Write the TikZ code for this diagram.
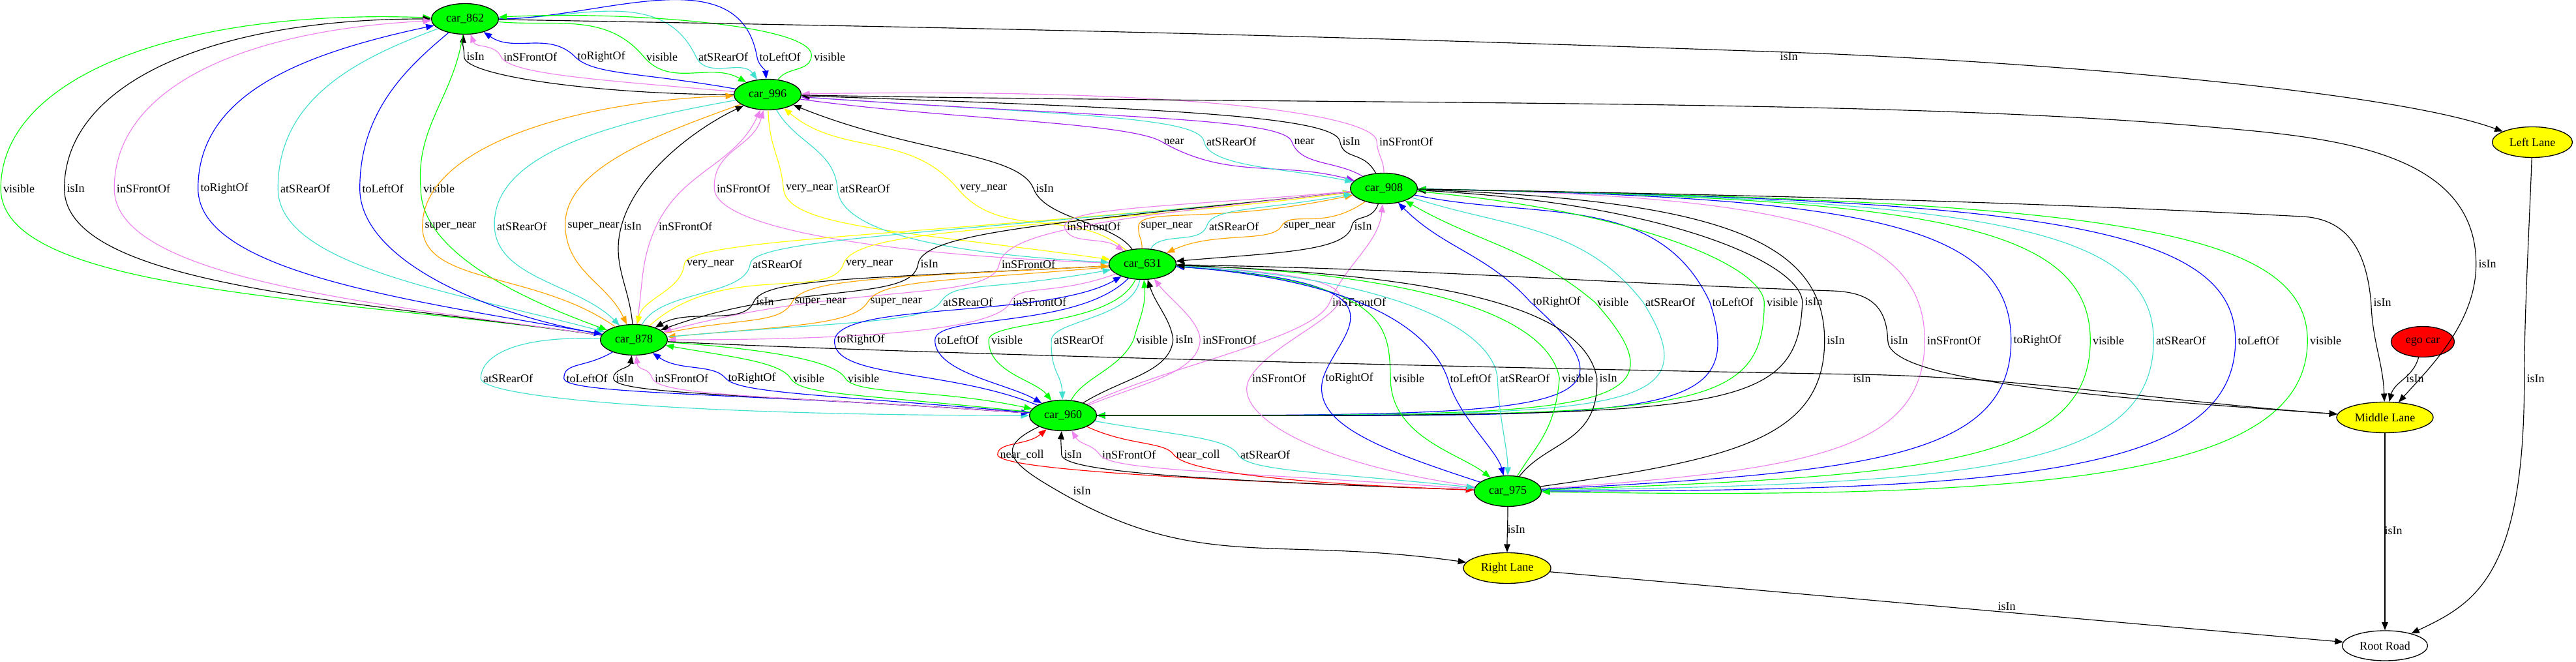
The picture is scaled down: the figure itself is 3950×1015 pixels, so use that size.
\documentclass[tikz,border=0pt]{standalone}
\usepackage{fontspec}
\setmainfont{Liberation Serif}
\usetikzlibrary{arrows.meta,shapes.geometric}
\definecolor{cgreen}{HTML}{00FF00}
\definecolor{cviolet}{HTML}{EE82EE}
\definecolor{cturq}{HTML}{40E0D0}
\definecolor{cblue}{HTML}{0000FF}
\definecolor{corange}{HTML}{FFA500}
\definecolor{cyellow}{HTML}{FFFF00}
\definecolor{cpurple}{HTML}{A020F0}
\definecolor{cred}{HTML}{FF0000}
\newcounter{lb}
% #1 style, #2 upper node, #3 lower node, #4 label x, #5 label y (px, down), #6 text, #7 first segment, #8 second segment
\newcommand\gedge[8]{%
  \stepcounter{lb}%
  \node[lab] (L\thelb) at (#4,-#5) {#6};
  \draw[e,#1] (#2) to[#7] ([xshift=-0.75pt]L\thelb.west) to[#8] (#3);}
\begin{document}
\begin{tikzpicture}[x=0.25pt,y=0.25pt,
  font=\fontsize{4.5}{5.25}\selectfont,
  e/.style={line width=0.29pt},
  fw/.style={-{Triangle[length=3.1pt,width=2.4pt]}},
  bw/.style={{Triangle[length=3.1pt,width=2.4pt]}-},
  od/.code={\pgfmathsetmacro\odv{#1*0.25}\edef\tmpk{\noexpand\tikzset{out distance=\odv pt}}\tmpk},
  ind/.code={\pgfmathsetmacro\idv{#1*0.25}\edef\tmpk{\noexpand\tikzset{in distance=\idv pt}}\tmpk},
  lab/.style={inner sep=0pt,anchor=center},
  car/.style={ellipse,draw=black,line width=0.33pt,fill=cgreen,minimum width=25.75pt,minimum height=11.75pt,inner sep=0pt},
  lane/.style={ellipse,draw=black,line width=0.33pt,fill=cyellow,minimum height=11.75pt,inner sep=0pt},
  egost/.style={ellipse,draw=black,line width=0.33pt,fill=cred,minimum width=24.25pt,minimum height=11.75pt,inner sep=0pt},
  rootst/.style={ellipse,draw=black,line width=0.33pt,fill=white,minimum width=32.75pt,minimum height=11.5pt,inner sep=0pt}]
\fill[white] (0,0) rectangle (3950,-1015);
\useasboundingbox (0,0) rectangle (3950,-1015);

% nodes
\node[car] (c862) at (713,-29) {car\_862};
\node[car] (c996) at (1177,-145) {car\_996};
\node[car] (c908) at (2122,-289) {car\_908};
\node[car] (c631) at (1752,-405) {car\_631};
\node[car] (c878) at (972,-521) {car\_878};
\node[car] (c960) at (1630,-637) {car\_960};
\node[car] (c975) at (2312,-753) {car\_975};
\node[lane,minimum width=30.75pt] (ll) at (3883,-218) {Left Lane};
\node[lane,minimum width=37pt] (ml) at (3657,-640) {Middle Lane};
\node[egost] (ego) at (3715,-524) {ego car};
\node[lane,minimum width=33.5pt] (rl) at (2311,-871) {Right Lane};
\node[rootst] (rr) at (3657,-990) {Root Road};

% 862 / 996
\gedge{black,bw}{c862}{c996}{729}{87}{isIn}{out=-95,in=90,od=20,ind=15}{out=-90,in=180,od=30,ind=200}
\gedge{cviolet,bw}{c862}{c996}{813}{87}{inSFrontOf}{out=-70,in=115}{out=-65,in=175,od=30,ind=200}
\gedge{cblue,bw}{c862}{c996}{922}{87}{toRightOf}{out=-35,in=135}{out=-45,in=170,od=40,ind=150}
\gedge{cgreen,fw}{c862}{c996}{1015}{87}{visible}{out=-5,in=130}{out=-50,in=150}
\gedge{cturq,fw}{c862}{c996}{1109}{87}{atSRearOf}{out=0,in=115}{out=-65,in=125}
\gedge{cblue,fw}{c862}{c996}{1196}{87}{toLeftOf}{out=0,in=100}{out=-80,in=95}
\gedge{cgreen,bw}{c862}{c996}{1272}{87}{visible}{out=3,in=80,ind=50}{out=-100,in=55}

% 862 / 878
\gedge{cgreen,bw}{c862}{c878}{29}{289}{visible}{out=178,in=90,od=390,ind=170}{out=-90,in=172,od=160,ind=420}
\gedge{black,bw}{c862}{c878}{116}{289}{isIn}{out=180,in=90,od=340,ind=160}{out=-90,in=172,od=150,ind=380}
\gedge{cviolet,bw}{c862}{c878}{220}{289}{inSFrontOf}{out=183,in=90,od=300,ind=150}{out=-90,in=172,od=140,ind=340}
\gedge{cblue,bw}{c862}{c878}{344}{289}{toRightOf}{out=192,in=90,od=220,ind=140}{out=-90,in=170,od=130,ind=290}
\gedge{cturq,fw}{c862}{c878}{468}{289}{atSRearOf}{out=200,in=90,od=150,ind=130}{out=-90,in=165,od=120,ind=230}
\gedge{cblue,fw}{c862}{c878}{587}{289}{toLeftOf}{out=-140,in=90,od=80,ind=120}{out=-90,in=170,od=110,ind=180}
\gedge{cgreen,fw}{c862}{c878}{673}{289}{visible}{out=-98,in=95}{out=-90,in=160,od=100,ind=130}

% 996 / 878
\gedge{corange,bw}{c996}{c878}{691}{347}{super\_near}{out=182,in=90,od=250,ind=120}{out=-90,in=145,od=90,ind=150}
\gedge{cturq,fw}{c996}{c878}{800}{347}{atSRearOf}{out=190,in=92,od=200,ind=110}{out=-88,in=135,od=80,ind=90}
\gedge{corange,fw}{c996}{c878}{910}{347}{super\_near}{out=200,in=92,od=130,ind=90}{out=-88,in=115,od=70,ind=70}
\gedge{black,bw}{c996}{c878}{970}{347}{isIn}{out=205,in=75,od=70,ind=90}{out=-105,in=95,od=60,ind=60}
\gedge{cviolet,bw}{c996}{c878}{1051}{347}{inSFrontOf}{out=-115,in=65}{out=-115,in=80}

% 996 / 631
\gedge{cviolet,bw}{c996}{c631}{1140}{289}{inSFrontOf}{out=-105,in=92,od=60,ind=60}{out=-88,in=178,od=60,ind=350}
\gedge{cyellow,fw}{c996}{c631}{1241}{289}{very\_near}{out=-88,in=95,od=60,ind=50}{out=-85,in=172,od=60,ind=320}
\gedge{cturq,fw}{c996}{c631}{1326}{289}{atSRearOf}{out=-60,in=95,od=60,ind=60}{out=-88,in=177,od=60,ind=280}
\gedge{cyellow,bw}{c996}{c631}{1508}{289}{very\_near}{out=-40,in=130}{out=-50,in=140}
\gedge{black,bw}{c996}{c631}{1602}{289}{isIn}{out=-22,in=112,od=200,ind=60}{out=-70,in=125,od=50,ind=50}

% 996 / 908
\gedge{cpurple,fw}{c996}{c908}{1800}{217}{near}{out=-8,in=150,ind=60}{out=-30,in=165}
\gedge{cturq,fw}{c996}{c908}{1888}{217}{atSRearOf}{out=-4,in=100,od=400,ind=40}{out=-80,in=168,od=40,ind=100}
\gedge{cpurple,bw}{c996}{c908}{2000}{217}{near}{out=-4,in=110,od=450,ind=40}{out=-70,in=150,od=40,ind=50}
\gedge{black,bw}{c996}{c908}{2072}{217}{isIn}{out=-2,in=100,od=550,ind=40}{out=-80,in=118,od=30,ind=40}
\gedge{cviolet,bw}{c996}{c908}{2156}{217}{inSFrontOf}{out=1,in=92,od=600,ind=40}{out=-88,in=90,od=20,ind=20}

% 908 / 878
\gedge{cyellow,fw}{c908}{c878}{1089}{405}{very\_near}{out=186,in=85,od=650,ind=40}{out=-95,in=78,od=40,ind=40}
\gedge{cturq,bw}{c908}{c878}{1192}{405}{atSRearOf}{out=186,in=88,od=600,ind=40}{out=-98,in=62,od=50,ind=60}
\gedge{cyellow,bw}{c908}{c878}{1333}{405}{very\_near}{out=187,in=72,od=500,ind=60}{out=-108,in=42,od=60,ind=150}
\gedge{black,fw}{c908}{c878}{1425}{405}{isIn}{out=186,in=82,od=450,ind=50}{out=-98,in=20,od=60,ind=220}
\gedge{cviolet,fw}{c908}{c878}{1577}{405}{inSFrontOf}{out=186,in=80,od=380,ind=50}{out=-100,in=15,od=60,ind=300}

% 908 / 631
\gedge{cviolet,fw}{c908}{c631}{1677}{347}{inSFrontOf}{out=185,in=80,od=280,ind=30}{out=-80,in=145,od=30,ind=40}
\gedge{corange,bw}{c908}{c631}{1789}{347}{super\_near}{out=192,in=85,od=220,ind=30}{out=-90,in=92,od=20,ind=20}
\gedge{cturq,bw}{c908}{c631}{1892}{347}{atSRearOf}{out=190,in=75,od=150,ind=30}{out=-110,in=62,od=30,ind=30}
\gedge{corange,fw}{c908}{c631}{2008}{347}{super\_near}{out=215,in=60,od=80,ind=30}{out=-120,in=25,od=30,ind=80}
\gedge{black,fw}{c908}{c631}{2090}{347}{isIn}{out=-110,in=78,od=30,ind=20}{out=-102,in=5,od=40,ind=150}

% 631 / 878
\gedge{black,fw}{c631}{c878}{1173}{463}{isIn}{out=183,in=68,od=380,ind=40}{out=-112,in=30,od=40,ind=60}
\gedge{corange,bw}{c631}{c878}{1258}{463}{super\_near}{out=183,in=62,od=350,ind=40}{out=-118,in=12,od=40,ind=120}
\gedge{corange,fw}{c631}{c878}{1374}{463}{super\_near}{out=185,in=60,od=250,ind=40}{out=-122,in=5,od=40,ind=200}
\gedge{cturq,bw}{c631}{c878}{1484}{463}{atSRearOf}{out=190,in=55,od=200,ind=40}{out=-125,in=5,od=40,ind=280}
\gedge{cviolet,fw}{c631}{c878}{1594}{463}{inSFrontOf}{out=200,in=68,od=100,ind=30}{out=-112,in=0,od=40,ind=350}

% 631 / 960
\gedge{cblue,bw}{c631}{c960}{1320}{521}{toRightOf}{out=-150,in=80,od=130,ind=60}{out=-95,in=158,od=60,ind=150}
\gedge{cblue,fw}{c631}{c960}{1469}{521}{toLeftOf}{out=-135,in=88,od=110,ind=40}{out=-92,in=150,od=50,ind=60}
\gedge{cgreen,fw}{c631}{c960}{1544}{521}{visible}{out=-115,in=88,od=80,ind=30}{out=-92,in=128,od=50,ind=40}
\gedge{cturq,fw}{c631}{c960}{1654}{521}{atSRearOf}{out=-100,in=85,od=60,ind=30}{out=-92,in=92,od=50,ind=40}
\gedge{cgreen,bw}{c631}{c960}{1766}{521}{visible}{out=-85,in=75,od=40,ind=30}{out=-115,in=62,od=50,ind=40}
\gedge{black,bw}{c631}{c960}{1816}{521}{isIn}{out=-72,in=95,od=40,ind=30}{out=-95,in=32,od=50,ind=70}
\gedge{cviolet,bw}{c631}{c960}{1885}{521}{inSFrontOf}{out=-52,in=92,od=40,ind=30}{out=-92,in=22,od=50,ind=90}

% 908 / 960
\gedge{cviolet,bw}{c908}{c960}{2084}{463}{inSFrontOf}{out=-95,in=68,od=60,ind=60}{out=-112,in=25,od=60,ind=150}
\gedge{cblue,bw}{c908}{c960}{2387}{463}{toRightOf}{out=-45,in=132}{out=-42,in=0,od=260,ind=700}
\gedge{cgreen,bw}{c908}{c960}{2473}{463}{visible}{out=-30,in=140}{out=-48,in=0,od=240,ind=750}
\gedge{cturq,fw}{c908}{c960}{2561}{463}{atSRearOf}{out=-18,in=128}{out=-58,in=0,od=210,ind=800}
\gedge{cblue,fw}{c908}{c960}{2657}{463}{toLeftOf}{out=-12,in=115}{out=-72,in=0,od=200,ind=850}
\gedge{cgreen,fw}{c908}{c960}{2733}{463}{visible}{out=-5,in=95,od=320,ind=60}{out=-90,in=0,od=180,ind=900}
\gedge{black,bw}{c908}{c960}{2781}{463}{isIn}{out=-3,in=92,od=380,ind=60}{out=-92,in=0,od=180,ind=950}

% 908 / 975
\gedge{black,bw}{c908}{c975}{2815}{522}{isIn}{out=-2,in=90,od=470,ind=150}{out=-90,in=8,od=150,ind=300}
\gedge{cviolet,bw}{c908}{c975}{2996}{522}{inSFrontOf}{out=-1,in=90,od=580,ind=170}{out=-90,in=4,od=170,ind=410}
\gedge{cblue,bw}{c908}{c975}{3124}{522}{toRightOf}{out=-1,in=90,od=680,ind=180}{out=-90,in=3,od=180,ind=500}
\gedge{cgreen,bw}{c908}{c975}{3233}{522}{visible}{out=-1,in=90,od=780,ind=180}{out=-90,in=2,od=190,ind=590}
\gedge{cturq,fw}{c908}{c975}{3344}{522}{atSRearOf}{out=-1,in=90,od=850,ind=180}{out=-90,in=1,od=200,ind=660}
\gedge{cblue,fw}{c908}{c975}{3463}{522}{toLeftOf}{out=-1,in=90,od=940,ind=180}{out=-90,in=0,od=200,ind=745}
\gedge{cgreen,fw}{c908}{c975}{3566}{522}{visible}{out=-1,in=90,od=1020,ind=180}{out=-90,in=-1,od=200,ind=820}

% 631 / 975
\gedge{cviolet,bw}{c631}{c975}{1961}{580}{inSFrontOf}{out=-3,in=60,od=450,ind=100}{out=-120,in=172,od=60,ind=260}
\gedge{cblue,bw}{c631}{c975}{2069}{580}{toRightOf}{out=-4,in=72,od=380,ind=80}{out=-105,in=162,od=70,ind=170}
\gedge{cgreen,fw}{c631}{c975}{2160}{580}{visible}{out=-4,in=92,od=330,ind=80}{out=-90,in=142,od=90,ind=60}
\gedge{cblue,fw}{c631}{c975}{2255}{580}{toLeftOf}{out=-4,in=110,od=300,ind=70}{out=-75,in=105,od=60,ind=40}
\gedge{cturq,fw}{c631}{c975}{2338}{580}{atSRearOf}{out=-3,in=95,od=350,ind=70}{out=-88,in=90,od=60,ind=40}
\gedge{cgreen,bw}{c631}{c975}{2419}{580}{visible}{out=-2,in=100,od=400,ind=90}{out=-95,in=58,od=80,ind=60}
\gedge{black,bw}{c631}{c975}{2466}{580}{isIn}{out=-2,in=100,od=450,ind=100}{out=-88,in=52,od=100,ind=70}

% 878 / 960
\gedge{cturq,fw}{c878}{c960}{779}{580}{atSRearOf}{out=178,in=90,od=140,ind=30}{out=-90,in=180,od=30,ind=520}
\gedge{cblue,fw}{c878}{c960}{900}{580}{toLeftOf}{out=-150,in=90,od=50,ind=25}{out=-90,in=176,od=25,ind=450}
\gedge{black,bw}{c878}{c960}{958}{580}{isIn}{out=-98,in=90,od=20,ind=15}{out=-90,in=176,od=25,ind=420}
\gedge{cviolet,bw}{c878}{c960}{1045}{580}{inSFrontOf}{out=-82,in=110,od=25,ind=20}{out=-70,in=176,od=30,ind=380}
\gedge{cblue,bw}{c878}{c960}{1153}{580}{toRightOf}{out=-35,in=130,od=50,ind=30}{out=-50,in=175,od=30,ind=320}
\gedge{cgreen,bw}{c878}{c960}{1240}{580}{visible}{out=-10,in=122,od=100,ind=30}{out=-58,in=174,od=30,ind=280}
\gedge{cgreen,fw}{c878}{c960}{1324}{580}{visible}{out=-4,in=120,od=160,ind=30}{out=-60,in=168,od=30,ind=150}

% 960 / 975
\gedge{cred,bw}{c960}{c975}{1567}{697}{near\_coll}{out=-140,in=90,od=40,ind=20}{out=-90,in=178,od=20,ind=500}
\gedge{black,bw}{c960}{c975}{1645}{697}{isIn}{out=-95,in=92,od=15,ind=15}{out=-88,in=178,od=25,ind=450}
\gedge{cviolet,bw}{c960}{c975}{1731}{697}{inSFrontOf}{out=-60,in=125,od=25,ind=20}{out=-55,in=176,od=30,ind=400}
\gedge{cred,fw}{c960}{c975}{1837}{697}{near\_coll}{out=-25,in=125,od=70,ind=25}{out=-55,in=178,od=30,ind=300}
\gedge{cturq,fw}{c960}{c975}{1940}{697}{atSRearOf}{out=-10,in=120,od=130,ind=30}{out=-60,in=174,od=30,ind=230}

% lanes
\node[lab] (Lll) at (2743,-87) {isIn};
\draw[e,black,fw] (c862) to[out=-1,in=178,od=800,ind=800] (Lll.north) to[out=-2,in=160,od=300,ind=200] (ll);

\node[lab] (Lm1) at (3814,-405) {isIn};
\draw[e,black,fw] (c996) to[out=-1,in=175,od=900,ind=500] (3380,-194) to[out=-5,in=90,od=180,ind=180] ([xshift=-0.75pt]Lm1.west) to[out=-90,in=48,od=90,ind=70] (ml);

\node[lab] (Lm2) at (3653,-464) {isIn};
\draw[e,black,fw] (c908) to[out=-1,in=177,od=600,ind=400] (3530,-332) to[out=-3,in=95,od=70,ind=80] ([xshift=-0.75pt]Lm2.west) to[out=-88,in=92,od=60,ind=60] (ml);

\node[lab] (Lm3) at (2912,-522) {isIn};
\draw[e,black,fw] (c631) to[out=-1,in=178,od=400,ind=400] (2810,-446) to[out=-2,in=92,od=60,ind=50] ([xshift=-0.75pt]Lm3.west) to[out=-90,in=176,od=60,ind=400] (ml);

\node[lab] (Lm4) at (2855,-581) {isIn};
\draw[e,black,fw] (c878) to[out=-3,in=179,od=300,ind=700] (Lm4.north) to[out=-1,in=176,od=250,ind=250] (ml);

\node[lab] (Lm5) at (3703,-581) {isIn};
\draw[e,black,fw] (ego) to[out=-105,in=75] (ml);

\node[lab] (Lr1) at (3888,-581) {isIn};
\draw[e,black,fw] (ll) to[out=-92,in=90,od=100,ind=100] ([xshift=-0.75pt]Lr1.west) to[out=-90,in=25,od=300,ind=110] (rr);

\node[lab] (Lr2) at (3670,-814) {isIn};
\draw[e,black,fw] (ml) to[out=-90,in=90] (rr);

\node[lab] (Lr3) at (3077,-930) {isIn};
\draw[e,black,fw] (rl) to[out=-5,in=175] (rr);

\node[lab] (Lr4) at (2325,-812) {isIn};
\draw[e,black,fw] (c975) to[out=-90,in=90] (rl);

\node[lab] (Lr5) at (1659,-753) {isIn};
\draw[e,black,fw] (c960) to[out=205,in=150,od=80,ind=80] ([xshift=-5.5pt]Lr5.west) to[out=-30,in=172,od=250,ind=300] (rl);
\end{tikzpicture}
\end{document}
